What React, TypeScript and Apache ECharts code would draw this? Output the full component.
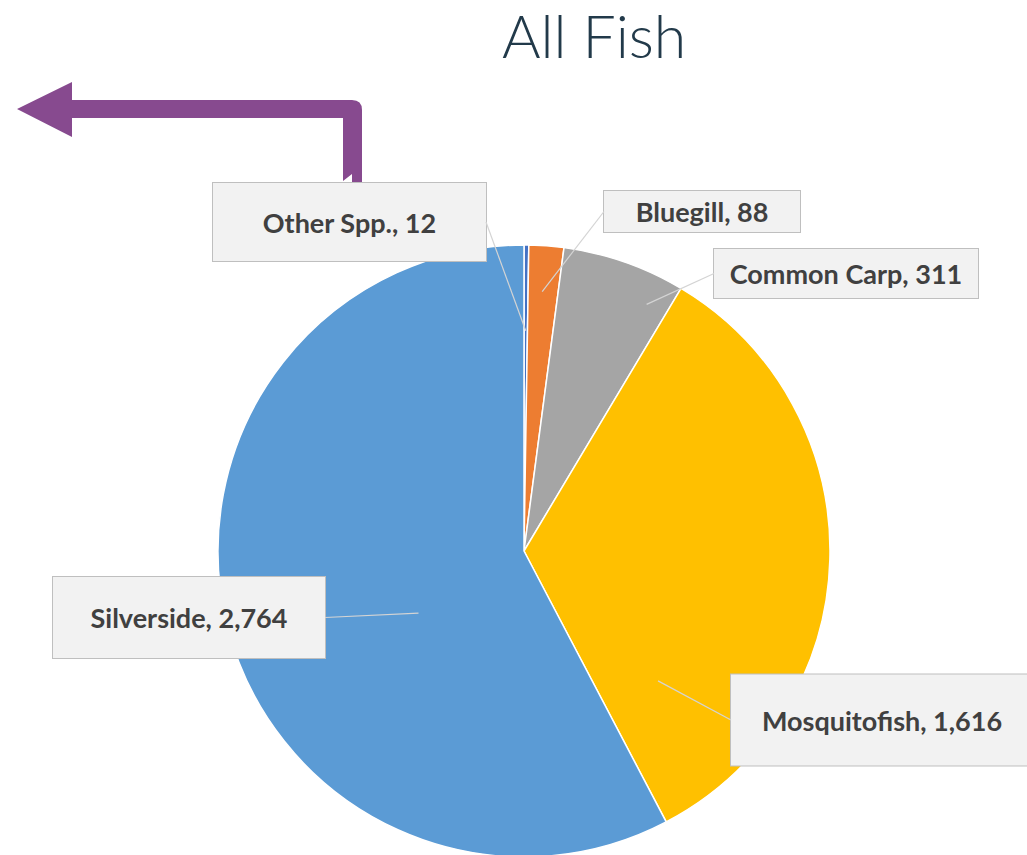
import React, { useEffect, useRef } from 'react';
import * as echarts from 'echarts';

const categories = ['Other Spp.', 'Bluegill', 'Common Carp', 'Mosquitofish', 'Silverside'];
const counts = [12, 88, 311, 1616, 2764];
const sliceColors = ['#4472c4', '#ed7d31', '#a5a5a5', '#ffc000', '#5b9bd5'];
const titleText = 'All Fish';

// label box layout (centre, box size) and leader-line anchor (fraction along slice, fraction of radius)
const labelBoxes = [
  { cx: 349.5, cy: 222, w: 273, h: 78, frac: 0.5, rf: 0.72 },
  { cx: 702, cy: 211.5, w: 196, h: 41, frac: 0.47, rf: 0.85 },
  { cx: 846, cy: 273.5, w: 264, h: 49, frac: 0.81, rf: 0.9 },
  { cx: 882, cy: 720, w: 302, h: 91, frac: 0.85, rf: 0.61 },
  { cx: 189, cy: 617.5, w: 272, h: 81, frac: 0.42, rf: 0.4 },
];

const CX = 524;
const CY = 551;
const R = 306;
const LABEL_FONT_SIZE = 27;
const LABEL_LINE_HEIGHT = 30;
const LABEL_FONT = 'Lato';

const ARROW_D =
  'M17 109 L72 82 L72 100 L352 100 Q362 100 362 110 L362 186 Q362 193 355 193 L352 193 L352 174 L343 181 L343 118 L72 118 L72 137 Z';

let registered = false;

export default function App() {
  const ref = useRef<HTMLDivElement>(null);

  useEffect(() => {
    if (!ref.current) return;
    if (!registered) {
      echarts.graphic.registerShape('bentArrow', echarts.graphic.extendPath(ARROW_D, {}));
      registered = true;
    }
    const chart = echarts.init(ref.current, null, { renderer: 'svg' });

    const total = counts.reduce((a, b) => a + b, 0);
    const labelText = (i: number) => `${categories[i]}, ${counts[i].toLocaleString('en-US')}`;

    const canvas = document.createElement('canvas');
    const ctx = canvas.getContext('2d')!;
    ctx.font = `bold ${LABEL_FONT_SIZE}px ${LABEL_FONT}`;

    let cum = 0;
    const anchors = counts.map((v, i) => {
      const start = (cum / total) * 360;
      const sweep = (v / total) * 360;
      cum += v;
      const b = labelBoxes[i];
      const th = ((start + b.frac * sweep) * Math.PI) / 180;
      return { x: CX + b.rf * R * Math.sin(th), y: CY - b.rf * R * Math.cos(th) };
    });

    const leaderLines = labelBoxes.map((b, i) => {
      const a = anchors[i];
      const sideX = a.x < b.cx ? b.cx - b.w / 2 : b.cx + b.w / 2;
      return {
        type: 'line',
        z: 10,
        silent: true,
        shape: { x1: sideX, y1: b.cy, x2: a.x, y2: a.y },
        style: { stroke: '#d4d4d4', lineWidth: 1.2 },
      };
    });

    const data = categories.map((name, i) => {
      const tw = ctx.measureText(labelText(i)).width;
      const b = labelBoxes[i];
      const ph = Math.max(2, (b.w - tw) / 2);
      const pv = Math.max(2, (b.h - LABEL_LINE_HEIGHT) / 2);
      return {
        name,
        value: counts[i],
        itemStyle: { color: sliceColors[i] },
        label: { padding: [pv, ph, pv, ph] },
      };
    });

    chart.setOption({
      animation: false,
      title: {
        text: titleText,
        left: 497,
        top: -6,
        textStyle: {
          fontFamily: 'Lato',
          fontWeight: 300,
          fontSize: 59,
          lineHeight: 72,
          color: '#223a4a',
        },
      },
      graphic: [
        {
          type: 'bentArrow',
          x: 0,
          y: 0,
          style: { fill: '#874a8f' },
          silent: true,
        },
        ...leaderLines,
      ],
      series: [
        {
          type: 'pie',
          center: [CX, CY],
          radius: R,
          startAngle: 90,
          clockwise: true,
          avoidLabelOverlap: false,
          silent: true,
          itemStyle: { borderColor: '#ffffff', borderWidth: 1.5 },
          emphasis: { disabled: true },
          label: {
            show: true,
            position: 'outside',
            formatter: (p: any) => labelText(p.dataIndex),
            fontFamily: LABEL_FONT,
            fontSize: LABEL_FONT_SIZE,
            fontWeight: 'bold',
            lineHeight: LABEL_LINE_HEIGHT,
            color: '#404040',
            backgroundColor: '#f2f2f2',
            borderColor: '#bfbfbf',
            borderWidth: 1,
          },
          labelLine: { show: false },
          labelLayout: (params: any) => {
            const b = labelBoxes[params.dataIndex];
            return { x: b.cx, y: b.cy, align: 'center', verticalAlign: 'middle' };
          },
          data,
        },
      ],
    });

    return () => chart.dispose();
  }, []);

  return (
    <div
      ref={ref}
      style={{ position: 'fixed', left: 0, top: 0, width: 1027, height: 855, background: '#ffffff' }}
    />
  );
}
